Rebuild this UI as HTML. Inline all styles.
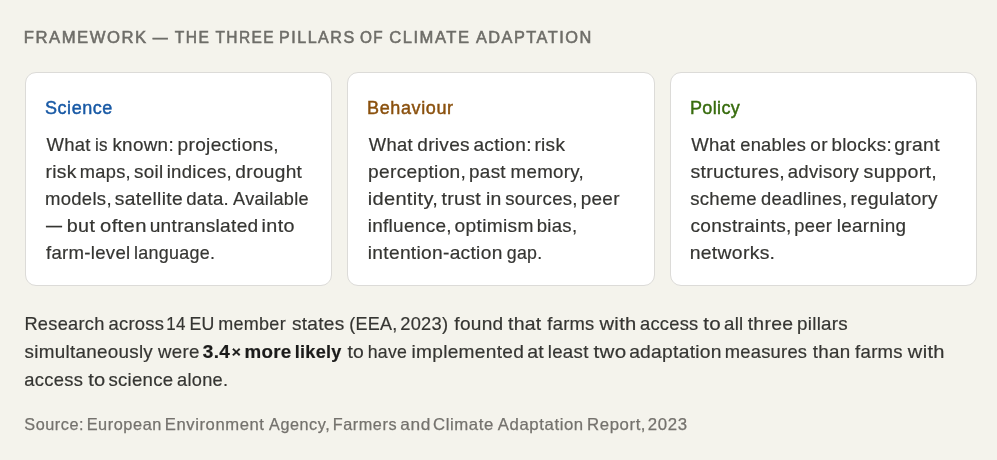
<!DOCTYPE html>
<html>
<head>
<meta charset="utf-8">
<style>
* { box-sizing: border-box; margin: 0; padding: 0; }
html, body { width: 997px; height: 460px; overflow: hidden; background: #f4f3ec; }
body { font-family: "Liberation Sans", sans-serif; color: #353533; position: relative; }
.ln { display: block; white-space: nowrap; will-change: transform; }
.wl { position: absolute; left: 0; width: 997px; white-space: nowrap; will-change: transform; }
.wl .w { position: absolute; left: 0; top: 0; transform-origin: 0 0; }
.hdr { font-size: 16px; line-height: 20px; height: 20px; color: #6e6d68; -webkit-text-stroke: 0.55px #6e6d68; }
.card { position: absolute; top: 72px; height: 214px; width: 307px; background: #fff; border: 1px solid #dcdbd8; border-radius: 11px; }
.c1 { left: 25px; }
.c2 { left: 347px; width: 308px; }
.c3 { left: 670px; }
.card h3 { position: absolute; left: 19px; top: 24px; font-size: 18px; font-weight: 400; line-height: 22px; -webkit-text-stroke: 0.45px currentColor; }
.card .body { position: absolute; left: 19px; top: 58px; font-size: 18.5px; line-height: 27px; color: #353532; -webkit-text-stroke: 0.2px #353532; }
.c1 h3 { color: #1859a5; }
.c2 h3 { color: #8a500d; }
.c3 h3 { color: #386c0e; }
.para { font-size: 18.5px; line-height: 28.3px; height: 28.3px; color: #353532; -webkit-text-stroke: 0.2px #353532; }
.para b { color: #1b1b1a; -webkit-text-stroke: 0.2px #1b1b1a; }
.src { font-size: 16.5px; line-height: 22px; height: 22px; color: #74726d; -webkit-text-stroke: 0.25px #74726d; }
.dash { display: inline-block; transform: translate(0.8px, -1.4px) scaleX(0.86); transform-origin: 0 50%; margin-right: -1.8px; }
.times { font-size: 0.82em; position: relative; top: -1.1px; margin-left: 1.5px; }
.cb { font-size: 18.5px; line-height: 27px; height: 27px; color: #353532; -webkit-text-stroke: 0.2px #353532; }

</style>
</head>
<body>
<div class="wl hdr" style="top:28px"><span class="w" style="letter-spacing:1.470px;transform:translate(23.79px,0px) scaleX(1.0411)">FRAMEWORK</span><span class="w" style="letter-spacing:1.470px;transform:translate(152.81px,0px) scaleX(0.9350)">—</span><span class="w" style="letter-spacing:1.470px;transform:translate(174.78px,0px) scaleX(0.9738)">THE</span><span class="w" style="letter-spacing:1.470px;transform:translate(215.45px,0px) scaleX(0.9684)">THREE</span><span class="w" style="letter-spacing:1.470px;transform:translate(279.12px,0px) scaleX(1.0047)">PILLARS</span><span class="w" style="letter-spacing:1.470px;transform:translate(359.94px,0px) scaleX(0.9576)">OF</span><span class="w" style="letter-spacing:1.470px;transform:translate(389.23px,0px) scaleX(1.0356)">CLIMATE</span><span class="w" style="letter-spacing:1.470px;transform:translate(475.90px,0px) scaleX(1.0193)">ADAPTATION</span></div>

<div class="card c1">
  <h3 class="ln" style="letter-spacing:0.556px">Science</h3>
</div>
<div class="card c2">
  <h3 class="ln" style="letter-spacing:0.628px">Behaviour</h3>
</div>
<div class="card c3">
  <h3 class="ln" style="letter-spacing:0.346px">Policy</h3>
</div>
<div class="wl cb" style="top:131px"><span class="w" style="letter-spacing:0.300px;transform:translate(46.53px,0px) scaleX(0.9968)">What</span><span class="w" style="letter-spacing:0.300px;transform:translate(94.92px,0px) scaleX(0.9197)">is</span><span class="w" style="letter-spacing:0.300px;transform:translate(112.40px,0px) scaleX(1.0183)">known:</span><span class="w" style="letter-spacing:0.300px;transform:translate(177.57px,0px) scaleX(1.0327)">projections,</span></div>
<div class="wl cb" style="top:158px"><span class="w" style="letter-spacing:0.300px;transform:translate(45.49px,0px) scaleX(1.0412)">risk</span><span class="w" style="letter-spacing:0.300px;transform:translate(79.82px,0px) scaleX(0.9863)">maps,</span><span class="w" style="letter-spacing:0.300px;transform:translate(133.93px,0px) scaleX(1.0164)">soil</span><span class="w" style="letter-spacing:0.300px;transform:translate(166.70px,0px) scaleX(1.0033)">indices,</span><span class="w" style="letter-spacing:0.300px;transform:translate(235.29px,0px) scaleX(1.0316)">drought</span></div>
<div class="wl cb" style="top:185px"><span class="w" style="letter-spacing:0.300px;transform:translate(44.95px,0px) scaleX(1.0001)">models,</span><span class="w" style="letter-spacing:0.300px;transform:translate(114.80px,0px) scaleX(1.0411)">satellite</span><span class="w" style="letter-spacing:0.300px;transform:translate(186.20px,0px) scaleX(1.0048)">data.</span><span class="w" style="letter-spacing:0.300px;transform:translate(233.10px,0px) scaleX(0.9790)">Available</span></div>
<div class="wl cb" style="top:212px"><span class="w" style="letter-spacing:0.300px;transform:translate(46.00px,-1.4px) scaleX(0.8666)">—</span><span class="w" style="letter-spacing:0.300px;transform:translate(66.80px,0px) scaleX(1.0689)">but</span><span class="w" style="letter-spacing:0.300px;transform:translate(100.06px,0px) scaleX(1.0946)">often</span><span class="w" style="letter-spacing:0.300px;transform:translate(149.68px,0px) scaleX(1.0323)">untranslated</span><span class="w" style="letter-spacing:0.300px;transform:translate(261.62px,0px) scaleX(1.0675)">into</span></div>
<div class="wl cb" style="top:239px"><span class="w" style="letter-spacing:0.300px;transform:translate(45.92px,0px) scaleX(1.0044)">farm-level</span><span class="w" style="letter-spacing:0.300px;transform:translate(134.04px,0px) scaleX(0.9672)">language.</span></div>
<div class="wl cb" style="top:131px"><span class="w" style="letter-spacing:0.300px;transform:translate(368.73px,0px) scaleX(0.9936)">What</span><span class="w" style="letter-spacing:0.300px;transform:translate(417.24px,0px) scaleX(1.0298)">drives</span><span class="w" style="letter-spacing:0.300px;transform:translate(473.38px,0px) scaleX(1.0320)">action:</span><span class="w" style="letter-spacing:0.300px;transform:translate(534.42px,0px) scaleX(1.0289)">risk</span></div>
<div class="wl cb" style="top:158px"><span class="w" style="letter-spacing:0.300px;transform:translate(368.07px,0px) scaleX(1.0346)">perception,</span><span class="w" style="letter-spacing:0.300px;transform:translate(469.05px,0px) scaleX(1.0191)">past</span><span class="w" style="letter-spacing:0.300px;transform:translate(510.55px,0px) scaleX(1.0109)">memory,</span></div>
<div class="wl cb" style="top:185px"><span class="w" style="letter-spacing:0.300px;transform:translate(367.68px,0px) scaleX(1.0827)">identity,</span><span class="w" style="letter-spacing:0.300px;transform:translate(441.45px,0px) scaleX(1.0584)">trust</span><span class="w" style="letter-spacing:0.300px;transform:translate(485.94px,0px) scaleX(1.0489)">in</span><span class="w" style="letter-spacing:0.300px;transform:translate(505.30px,0px) scaleX(1.0025)">sources,</span><span class="w" style="letter-spacing:0.300px;transform:translate(580.70px,0px) scaleX(1.0212)">peer</span></div>
<div class="wl cb" style="top:212px"><span class="w" style="letter-spacing:0.300px;transform:translate(367.67px,0px) scaleX(1.0240)">influence,</span><span class="w" style="letter-spacing:0.300px;transform:translate(454.59px,0px) scaleX(1.0365)">optimism</span><span class="w" style="letter-spacing:0.300px;transform:translate(536.68px,0px) scaleX(1.0029)">bias,</span></div>
<div class="wl cb" style="top:239px"><span class="w" style="letter-spacing:0.300px;transform:translate(367.77px,0px) scaleX(1.0350)">intention-action</span><span class="w" style="letter-spacing:0.300px;transform:translate(506.74px,0px) scaleX(0.9601)">gap.</span></div>
<div class="wl cb" style="top:131px"><span class="w" style="letter-spacing:0.300px;transform:translate(691.14px,0px) scaleX(1.0008)">What</span><span class="w" style="letter-spacing:0.300px;transform:translate(740.21px,0px) scaleX(0.9870)">enables</span><span class="w" style="letter-spacing:0.300px;transform:translate(810.37px,0px) scaleX(1.0232)">or</span><span class="w" style="letter-spacing:0.300px;transform:translate(831.40px,0px) scaleX(1.0140)">blocks:</span><span class="w" style="letter-spacing:0.300px;transform:translate(894.31px,0px) scaleX(1.0423)">grant</span></div>
<div class="wl cb" style="top:158px"><span class="w" style="letter-spacing:0.300px;transform:translate(690.39px,0px) scaleX(1.0554)">structures,</span><span class="w" style="letter-spacing:0.300px;transform:translate(787.73px,0px) scaleX(1.0010)">advisory</span><span class="w" style="letter-spacing:0.300px;transform:translate(863.62px,0px) scaleX(1.0605)">support,</span></div>
<div class="wl cb" style="top:185px"><span class="w" style="letter-spacing:0.300px;transform:translate(690.20px,0px) scaleX(1.0033)">scheme</span><span class="w" style="letter-spacing:0.300px;transform:translate(760.95px,0px) scaleX(0.9901)">deadlines,</span><span class="w" style="letter-spacing:0.300px;transform:translate(850.44px,0px) scaleX(1.0260)">regulatory</span></div>
<div class="wl cb" style="top:212px"><span class="w" style="letter-spacing:0.300px;transform:translate(690.38px,0px) scaleX(1.0308)">constraints,</span><span class="w" style="letter-spacing:0.300px;transform:translate(794.24px,0px) scaleX(0.9881)">peer</span><span class="w" style="letter-spacing:0.300px;transform:translate(836.70px,0px) scaleX(1.0218)">learning</span></div>
<div class="wl cb" style="top:239px"><span class="w" style="letter-spacing:0.300px;transform:translate(689.65px,0px) scaleX(1.0464)">networks.</span></div>

<div class="wl para" style="top:309.6px"><span class="w" style="letter-spacing:0.270px;transform:translate(24.43px,0px) scaleX(0.9855)">Research</span><span class="w" style="letter-spacing:0.270px;transform:translate(108.42px,0px) scaleX(0.9952)">across</span><span class="w" style="letter-spacing:0.270px;transform:translate(166.25px,0px) scaleX(0.9170)">14</span><span class="w" style="letter-spacing:0.270px;transform:translate(189.41px,0px) scaleX(0.9577)">EU</span><span class="w" style="letter-spacing:0.270px;transform:translate(218.36px,0px) scaleX(0.9719)">member</span><span class="w" style="letter-spacing:0.270px;transform:translate(291.94px,0px) scaleX(1.0330)">states</span><span class="w" style="letter-spacing:0.270px;transform:translate(349.21px,0px) scaleX(0.9738)">(EEA,</span><span class="w" style="letter-spacing:0.270px;transform:translate(400.24px,0px) scaleX(0.9885)">2023)</span><span class="w" style="letter-spacing:0.270px;transform:translate(454.36px,0px) scaleX(1.0303)">found</span><span class="w" style="letter-spacing:0.270px;transform:translate(507.97px,0px) scaleX(1.0506)">that</span><span class="w" style="letter-spacing:0.270px;transform:translate(547.30px,0px) scaleX(0.9928)">farms</span><span class="w" style="letter-spacing:0.270px;transform:translate(599.49px,0px) scaleX(1.0905)">with</span><span class="w" style="letter-spacing:0.270px;transform:translate(639.99px,0px) scaleX(0.9889)">access</span><span class="w" style="letter-spacing:0.270px;transform:translate(703.17px,0px) scaleX(1.1125)">to</span><span class="w" style="letter-spacing:0.270px;transform:translate(723.98px,0px) scaleX(1.0082)">all</span><span class="w" style="letter-spacing:0.270px;transform:translate(747.71px,0px) scaleX(1.0469)">three</span><span class="w" style="letter-spacing:0.270px;transform:translate(797.02px,0px) scaleX(1.0152)">pillars</span></div>
<div class="wl para" style="top:337.9px"><span class="w" style="letter-spacing:0.270px;transform:translate(24.60px,0px) scaleX(1.0181)">simultaneously</span><span class="w" style="letter-spacing:0.270px;transform:translate(157.97px,0px) scaleX(1.0121)">were</span><b class="w" style="letter-spacing:0.270px;transform:translate(202.84px,0px) scaleX(1.0270)">3.4<span class="times">×</span></b><b class="w" style="letter-spacing:0.270px;transform:translate(244.54px,0px) scaleX(1.0133)">more</b><b class="w" style="letter-spacing:0.270px;transform:translate(294.78px,0px) scaleX(0.9785)">likely</b><span class="w" style="letter-spacing:0.270px;transform:translate(347.41px,0px) scaleX(1.0454)">to</span><span class="w" style="letter-spacing:0.270px;transform:translate(367.73px,0px) scaleX(0.9564)">have</span><span class="w" style="letter-spacing:0.270px;transform:translate(411.56px,0px) scaleX(1.0330)">implemented</span><span class="w" style="letter-spacing:0.270px;transform:translate(527.19px,0px) scaleX(1.0559)">at</span><span class="w" style="letter-spacing:0.270px;transform:translate(547.80px,0px) scaleX(1.0089)">least</span><span class="w" style="letter-spacing:0.270px;transform:translate(593.50px,0px) scaleX(1.1131)">two</span><span class="w" style="letter-spacing:0.270px;transform:translate(629.14px,0px) scaleX(1.0394)">adaptation</span><span class="w" style="letter-spacing:0.270px;transform:translate(724.73px,0px) scaleX(0.9900)">measures</span><span class="w" style="letter-spacing:0.270px;transform:translate(812.73px,0px) scaleX(1.0145)">than</span><span class="w" style="letter-spacing:0.270px;transform:translate(855.12px,0px) scaleX(1.0030)">farms</span><span class="w" style="letter-spacing:0.270px;transform:translate(907.85px,0px) scaleX(1.0849)">with</span></div>
<div class="wl para" style="top:366.2px"><span class="w" style="letter-spacing:0.270px;transform:translate(24.36px,0px) scaleX(0.9920)">access</span><span class="w" style="letter-spacing:0.270px;transform:translate(88.17px,0px) scaleX(1.0858)">to</span><span class="w" style="letter-spacing:0.270px;transform:translate(108.43px,0px) scaleX(1.0046)">science</span><span class="w" style="letter-spacing:0.270px;transform:translate(177.02px,0px) scaleX(0.9848)">alone.</span></div>

<div class="wl src" style="top:413px"><span class="w" style="letter-spacing:0.580px;transform:translate(24.23px,0px) scaleX(0.9842)">Source:</span><span class="w" style="letter-spacing:0.580px;transform:translate(86.64px,0px) scaleX(0.9878)">European</span><span class="w" style="letter-spacing:0.580px;transform:translate(164.75px,0px) scaleX(1.0079)">Environment</span><span class="w" style="letter-spacing:0.580px;transform:translate(269.06px,0px) scaleX(0.9800)">Agency,</span><span class="w" style="letter-spacing:0.580px;transform:translate(332.66px,0px) scaleX(0.9842)">Farmers</span><span class="w" style="letter-spacing:0.580px;transform:translate(400.26px,0px) scaleX(1.0471)">and</span><span class="w" style="letter-spacing:0.580px;transform:translate(432.95px,0px) scaleX(1.0166)">Climate</span><span class="w" style="letter-spacing:0.580px;transform:translate(497.83px,0px) scaleX(1.0142)">Adaptation</span><span class="w" style="letter-spacing:0.580px;transform:translate(587.10px,0px) scaleX(1.0145)">Report,</span><span class="w" style="letter-spacing:0.580px;transform:translate(647.87px,0px) scaleX(1.0176)">2023</span></div>

</body>
</html>
